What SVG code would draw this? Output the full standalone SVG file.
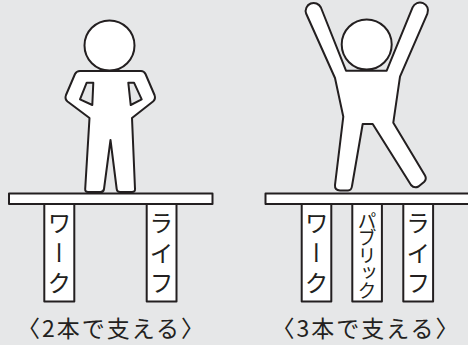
<svg xmlns="http://www.w3.org/2000/svg" width="468" height="345" viewBox="0 0 468 345">
  <style>
    .ln { stroke: #231f20; stroke-width: 2; stroke-linejoin: round; }
    .fig { fill: #ffffff; }
    .col { fill: #ffffff; }
    .vt { font-family: "Noto Sans CJK JP", "Noto Sans", sans-serif; font-size: 24px; fill: #231f20; writing-mode: vertical-rl; text-anchor: start; letter-spacing: 6px; }
    .vs { font-size: 19px; letter-spacing: -1.5px; }
    .cap { font-family: "Noto Sans CJK JP", "Noto Sans", sans-serif; font-size: 23px; fill: #231f20; text-anchor: middle; letter-spacing: 2px; }
  </style>
  <rect x="0" y="0" width="468" height="345" fill="#e6e7e8"/>

  <!-- standing figure, hands on hips -->
  <g id="figure-two">
    <path class="fig ln" fill-rule="evenodd" d="M 80,71 L 141,71 Q 144,71 145.5,74 L 154.5,95 Q 156,99 153,101.5 L 132,118 L 135,189 Q 135.2,192 132,192 L 120,192 Q 117,192 116.7,189 L 110.5,140 L 104,189 Q 103.6,192 100.5,192 L 88,192 Q 85,192 85.2,189 L 89.5,118 L 67.5,101.5 Q 64.5,99 66,95 L 75,74 Q 76.6,71 80,71 Z M 86.7,82.7 L 93.3,82.7 L 92.3,105 L 80,99.3 Z M 128.3,82.7 L 134,82.7 L 141.7,99.3 L 130.7,105 Z"/>
    <circle class="fig ln" cx="109.5" cy="45.5" r="25"/>
  </g>

  <!-- jumping figure, arms raised -->
  <g id="figure-three">
    <path class="fig ln" d="M 346,70.7 L 320.9,7.5 A 8,8 0 0 0 306.1,13.5 L 335,78 L 343.3,116.7 L 335,185 Q 334.6,190.3 340,190.5 L 348,190.5 Q 351.5,190.3 352,186 L 362.7,124 L 372.7,124 L 411,185 Q 414,188.5 418.5,186.5 L 424,182 Q 427,179 425,175.5 L 393.3,122.7 L 400,76.7 L 427.4,13.6 A 8,8 0 0 0 412.6,7.4 L 386.7,70.7 Z"/>
    <circle class="fig ln" cx="366.7" cy="44.5" r="25"/>
  </g>

  <!-- two-leg table -->
  <g id="table-two">
    <rect class="col ln" x="9" y="193.5" width="203.5" height="10.5"/>
  </g>
  <g id="leg-work-2">
    <rect class="col ln" x="44.3" y="204" width="30" height="97.5"/>
    <text class="vt" x="59.3" y="211">ワーク</text>
  </g>
  <g id="leg-life-2">
    <rect class="col ln" x="146.7" y="204" width="29.8" height="97.5"/>
    <text class="vt" x="161.6" y="211">ライフ</text>
  </g>
  <g id="caption-two">
    <text class="cap" x="111.5" y="337">〈2本で支える〉</text>
  </g>

  <!-- three-leg table -->
  <g id="table-three">
    <rect class="col ln" x="265.5" y="193.5" width="215" height="10.5"/>
  </g>
  <g id="leg-work-3">
    <rect class="col ln" x="301.7" y="204" width="29.6" height="97.5"/>
    <text class="vt" x="316.5" y="211">ワーク</text>
  </g>
  <g id="leg-public-3">
    <rect class="col ln" x="352.3" y="204" width="29.6" height="97.5"/>
    <text class="vt vs" x="367.1" y="211">パブリック</text>
  </g>
  <g id="leg-life-3">
    <rect class="col ln" x="403.3" y="204" width="29.8" height="97.5"/>
    <text class="vt" x="418.2" y="211">ライフ</text>
  </g>
  <g id="caption-three">
    <text class="cap" x="366" y="337">〈3本で支える〉</text>
  </g>
</svg>
